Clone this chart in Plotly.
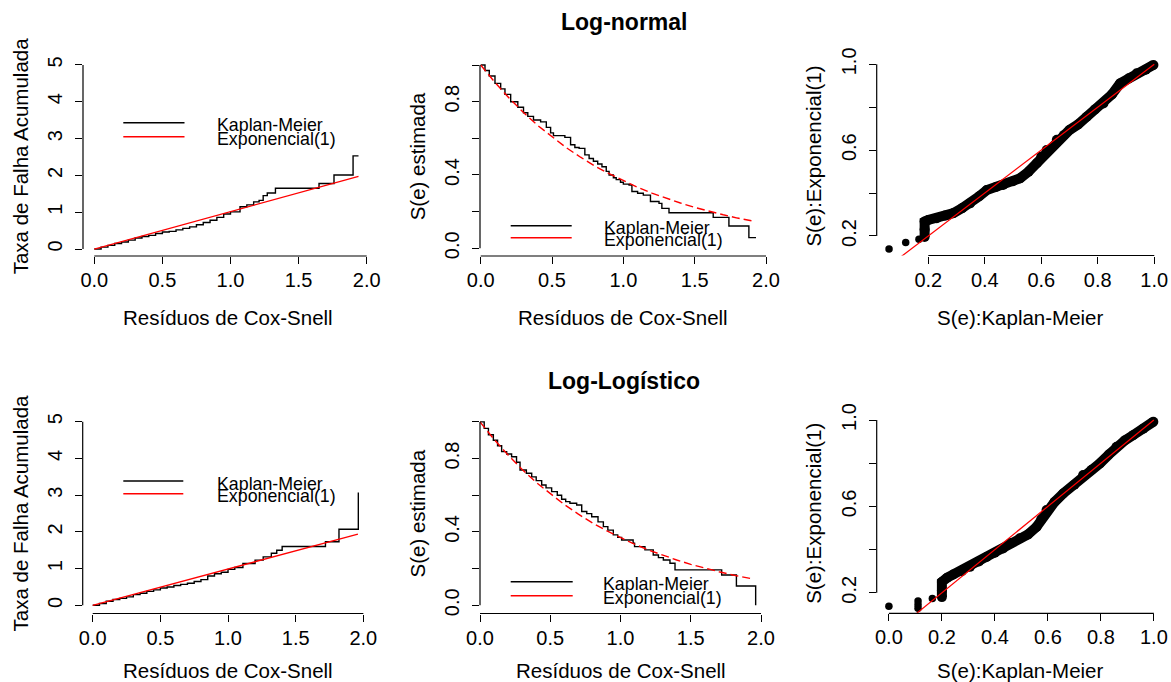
import plotly.graph_objects as go

W, H = 1171, 682
def fx(px): return px / W
def fy(py): return 1 - py / H

# ---------------- data ----------------
# Log-normal row
ln_ch_t = [0, .05, .1, .15, .2, .25, .3, .35, .4, .45, .5, .55, .6, .65, .7, .75, .8, .85, .9, .95,
           1.0, 1.07, 1.12, 1.17, 1.21, 1.24, 1.27, 1.33, 1.65, 1.76, 1.9, 1.94]
ln_ch_h = [0, .05, .10, .15, .19, .24, .3, .34, .37, .42, .46, .48, .52, .56, .6, .66, .72, .78, .86, .95,
           1.01, 1.15, 1.2, 1.28, 1.32, 1.45, 1.52, 1.65, 1.78, 2.01, 2.53, 2.53]
ln_ref_x = [0, 1.94]
ln_ref_y = [0, 1.97]

ln_km_t = [0, .03, .06, .10, .14, .17, .21, .26, .30, .33, .37, .42, .46, .49, .51, .59, .63, .66, .69, .73,
           .76, .79, .82, .85, .88, .90, .93, .95, .98, 1.00, 1.04, 1.06, 1.10, 1.14, 1.19, 1.25, 1.27, 1.32,
           1.63, 1.74, 1.88, 1.93]
ln_km_s = [1.0, .97, .94, .90, .87, .84, .80, .77, .74, .72, .70, .69, .66, .63, .615, .605, .565, .55, .545, .51,
           .49, .475, .46, .445, .42, .40, .385, .375, .36, .35, .345, .31, .30, .29, .255, .245, .218, .194,
           .169, .122, .058, .058]
ln_exp_x = [0, .1, .2, .3, .4, .5, .6, .7, .8, .9, 1.0, 1.1, 1.2, 1.3, 1.4, 1.5, 1.6, 1.7, 1.8, 1.9]
ln_exp_y = [1.0, .905, .819, .741, .670, .607, .549, .497, .449, .407, .368, .333, .301, .273, .247, .223,
            .202, .183, .165, .150]

ln_iso_km = [0.061, 0.12, 0.167]
ln_iso_exp = [0.139, 0.17, 0.185]
ln_pp_km = [0.187, 0.187, 0.187, 0.20, 0.23, 0.26, 0.289, 0.32, 0.348, 0.38, 0.407, 0.44, 0.465, 0.50, 0.525,
            0.555, 0.584, 0.60, 0.619, 0.655, 0.68, 0.70, 0.73, 0.761, 0.79, 0.82, 0.85, 0.879, 0.91, 0.938,
            0.97, 0.997]
ln_pp_exp = [0.195, 0.23, 0.267, 0.275, 0.283, 0.295, 0.307, 0.33, 0.352, 0.385, 0.414, 0.428, 0.438, 0.455,
             0.469, 0.50, 0.539, 0.57, 0.601, 0.648, 0.67, 0.694, 0.72, 0.756, 0.79, 0.818, 0.86, 0.911, 0.935,
             0.958, 0.975, 0.997]

# Log-logistic row
ll_ch_t = [0, .05, .1, .15, .2, .25, .3, .35, .4, .45, .5, .55, .6, .65, .7, .75, .8, .85, .9, .95,
           1.0, 1.05, 1.11, 1.2, 1.26, 1.32, 1.36, 1.40, 1.72, 1.82, 1.963]
ll_ch_h = [0, .05, .11, .16, .19, .23, .29, .33, .38, .42, .47, .5, .54, .57, .6, .65, .7, .8, .86, .9,
           .98, 1.03, 1.14, 1.23, 1.32, 1.42, 1.5, 1.6, 1.73, 2.07, 3.07]
ll_ref_x = [0, 1.96]
ll_ref_y = [0, 1.94]

ll_km_t = [0, .03, .06, .095, .125, .154, .19, .225, .26, .285, .33, .368, .40, .439, .47, .51, .55, .581, .61,
           .64, .688, .724, .76, .795, .84, .878, .91, .949, .98, 1.008, 1.09, 1.10, 1.174, 1.233, 1.27, 1.305,
           1.352, 1.388, 1.72, 1.825, 1.962]
ll_km_s = [1.0, .965, .93, .90, .87, .838, .825, .81, .78, .738, .72, .70, .68, .656, .64, .62, .60, .578, .565,
           .556, .547, .511, .50, .483, .455, .429, .41, .384, .37, .356, .338, .32, .302, .274, .26, .247,
           .229, .193, .165, .105, 0.0]
ll_exp_x = [0, .1, .2, .3, .4, .5, .6, .7, .8, .9, 1.0, 1.1, 1.2, 1.3, 1.4, 1.5, 1.6, 1.7, 1.8, 1.9, 1.945]
ll_exp_y = [1.0, .905, .819, .741, .670, .607, .549, .497, .449, .407, .368, .333, .301, .273, .247, .223,
            .202, .183, .165, .150, .143]

ll_iso_km = [0.0, 0.11, 0.11, 0.11, 0.164]
ll_iso_exp = [0.138, 0.128, 0.145, 0.162, 0.174]
ll_pp_km = [0.2, 0.2, 0.2, 0.22, 0.243, 0.275, 0.306, 0.34, 0.369, 0.40, 0.431, 0.46, 0.494, 0.525, 0.557,
            0.575, 0.595, 0.625, 0.658, 0.70, 0.733, 0.765, 0.796, 0.83, 0.859, 0.89, 0.922, 0.96, 0.998]
ll_pp_exp = [0.18, 0.21, 0.25, 0.27, 0.285, 0.30, 0.32, 0.345, 0.366, 0.385, 0.405, 0.43, 0.452, 0.47, 0.505,
             0.54, 0.583, 0.62, 0.66, 0.70, 0.745, 0.77, 0.799, 0.84, 0.876, 0.905, 0.93, 0.96, 0.992]

diag_x = [0, 1]
diag_y = [0, 1]

titles = ["Log-normal", "Log-Logístico"]
legend_labels = ["Kaplan-Meier", "Exponencial(1)"]
xlab_res = "Resíduos de Cox-Snell"
ylab_ch = "Taxa de Falha Acumulada"
ylab_s = "S(e) estimada"
xlab_pp = "S(e):Kaplan-Meier"
ylab_pp = "S(e):Exponencial(1)"

# ---------------- layout geometry (pixels) ----------------
FONT = "Liberation Sans, Arial, sans-serif"
TICKF = 20
LABF = 20.5
panels = [
    # row 1
    dict(xd=(83, 369), xr=(-0.083, 2.017), yd=(57.6, 256), yr=(-0.19, 5.2),
         xt=[0, .5, 1, 1.5, 2], xtt=["0.0", "0.5", "1.0", "1.5", "2.0"],
         yt=[0, 1, 2, 3, 4, 5], ytt=["0", "1", "2", "3", "4", "5"]),
    dict(xd=(480, 766), xr=(-0.005, 2.0), yd=(57.7, 256), yr=(-0.042, 1.04),
         xt=[0, .5, 1, 1.5, 2], xtt=["0.0", "0.5", "1.0", "1.5", "2.0"],
         yt=[0, .2, .4, .6, .8, 1.0], ytt=["0.0", "", "0.4", "", "0.8", ""]),
    dict(xd=(876.7, 1165), xr=(0.0173, 1.038), yd=(57.7, 255.5), yr=(0.109, 1.031),
         xt=[.2, .4, .6, .8, 1.0], xtt=["0.2", "0.4", "0.6", "0.8", "1.0"],
         yt=[.2, .4, .6, .8, 1.0], ytt=["0.2", "", "0.6", "", "1.0"]),
    # row 2
    dict(xd=(82.7, 367.4), xr=(-0.074, 2.03), yd=(414.4, 613.5), yr=(-0.223, 5.2),
         xt=[0, .5, 1, 1.5, 2], xtt=["0.0", "0.5", "1.0", "1.5", "2.0"],
         yt=[0, 1, 2, 3, 4, 5], ytt=["0", "1", "2", "3", "4", "5"]),
    dict(xd=(480, 761), xr=(0.0, 2.0), yd=(414.4, 613.5), yr=(-0.045, 1.041),
         xt=[0, .5, 1, 1.5, 2], xtt=["0.0", "0.5", "1.0", "1.5", "2.0"],
         yt=[0, .2, .4, .6, .8, 1.0], ytt=["0.0", "", "0.4", "", "0.8", ""]),
    dict(xd=(876.7, 1165), xr=(-0.046, 1.042), yd=(414.4, 613.3), yr=(0.105, 1.026),
         xt=[0, .2, .4, .6, .8, 1.0], xtt=["0.0", "0.2", "0.4", "0.6", "0.8", "1.0"],
         yt=[.2, .4, .6, .8, 1.0], ytt=["0.2", "", "0.6", "", "1.0"]),
]

fig = go.Figure()
layout = dict(width=W, height=H, margin=dict(l=0, r=0, t=0, b=0, pad=0), autosize=False,
              paper_bgcolor="white", plot_bgcolor="white", showlegend=False,
              font=dict(family=FONT, color="black"))
shapes, annotations = [], []

for i, p in enumerate(panels, start=1):
    sx = "" if i == 1 else str(i)
    layout["xaxis" + sx] = dict(
        domain=[fx(p["xd"][0]), fx(p["xd"][1])], range=list(p["xr"]), anchor="y" + sx,
        automargin=False, fixedrange=True,
        showgrid=False, zeroline=False, showline=False, ticks="outside", ticklen=7,
        tickwidth=1, tickcolor="black", tickvals=p["xt"], ticktext=p["xtt"],
        tickfont=dict(size=TICKF, color="black", family=FONT), ticklabelstandoff=-1)
    layout["yaxis" + sx] = dict(
        domain=[fy(p["yd"][1]), fy(p["yd"][0])], range=list(p["yr"]), anchor="x" + sx,
        automargin=False, fixedrange=True,
        showgrid=False, zeroline=False, showline=False, ticks="outside", ticklen=7,
        tickwidth=1, tickcolor="black", tickvals=p["yt"], ticktext=p["ytt"], tickangle=-90,
        tickfont=dict(size=TICKF, color="black", family=FONT), ticklabelstandoff=5)
    # R-style axis lines spanning first to last tick
    shapes.append(dict(type="line", xref="x" + sx, yref="y" + sx + " domain",
                       x0=p["xt"][0], x1=p["xt"][-1], y0=0, y1=0,
                       line=dict(color="black", width=1.2)))
    shapes.append(dict(type="line", yref="y" + sx, xref="x" + sx + " domain",
                       y0=p["yt"][0], y1=p["yt"][-1], x0=0, x1=0,
                       line=dict(color="black", width=1.2)))

def ax(i):
    s = "" if i == 1 else str(i)
    return dict(xaxis="x" + s, yaxis="y" + s)

KLINE = dict(color="black", width=1.4, shape="hv")
RSOLID = dict(color="red", width=1.3)
RDASH = dict(color="red", width=1.4, dash="8px,4px")

rows = [
    (ln_ch_t, ln_ch_h, ln_ref_x, ln_ref_y, ln_km_t, ln_km_s, ln_exp_x, ln_exp_y,
     ln_iso_km, ln_iso_exp, ln_pp_km, ln_pp_exp),
    (ll_ch_t, ll_ch_h, ll_ref_x, ll_ref_y, ll_km_t, ll_km_s, ll_exp_x, ll_exp_y,
     ll_iso_km, ll_iso_exp, ll_pp_km, ll_pp_exp),
]
for r, d in enumerate(rows):
    (ch_t, ch_h, rx, ry, km_t, km_s, ex, ey, iso_x, iso_y, pp_x, pp_y) = d
    b = r * 3
    fig.add_trace(go.Scatter(x=ch_t, y=ch_h, mode="lines", line=KLINE, **ax(b + 1)))
    fig.add_trace(go.Scatter(x=rx, y=ry, mode="lines", line=RSOLID, **ax(b + 1)))
    fig.add_trace(go.Scatter(x=km_t, y=km_s, mode="lines", line=KLINE, **ax(b + 2)))
    fig.add_trace(go.Scatter(x=ex, y=ey, mode="lines", line=RDASH, **ax(b + 2)))
    fig.add_trace(go.Scatter(x=iso_x, y=iso_y, mode="markers", cliponaxis=False,
                             marker=dict(color="black", size=7.5), **ax(b + 3)))
    fig.add_trace(go.Scatter(x=pp_x, y=pp_y, mode="lines+markers", cliponaxis=False,
                             line=dict(color="black", width=10),
                             marker=dict(color="black", size=10), **ax(b + 3)))
    fig.add_trace(go.Scatter(x=diag_x, y=diag_y, mode="lines",
                             line=dict(color="red", width=1.2), **ax(b + 3)))

# legends (R-style, no box)
legend_pos = [
    # (line x0, line x1, black line y, red line y, text x)
    (123.3, 184.5, 122.7, 136.7, 215),
    (510.7, 571.7, 225.7, 237.7, 602),
    (123.3, 183.3, 481.0, 493.7, 215),
    (510.7, 572.7, 581.7, 595.7, 601),
]
for (x0, x1, yb, yr_, tx) in legend_pos:
    shapes.append(dict(type="line", xref="paper", yref="paper", x0=fx(x0), x1=fx(x1),
                       y0=fy(yb), y1=fy(yb), line=dict(color="black", width=1.4)))
    shapes.append(dict(type="line", xref="paper", yref="paper", x0=fx(x0), x1=fx(x1),
                       y0=fy(yr_), y1=fy(yr_), line=dict(color="red", width=1.4)))
    for lab, yy in zip(legend_labels, (yb + 2.5, yr_ + 2.5)):
        annotations.append(dict(text=lab, xref="paper", yref="paper", x=fx(tx), y=fy(yy),
                                xanchor="left", yanchor="middle", showarrow=False,
                                font=dict(size=17.8, color="black", family=FONT)))

# titles
for t, yy in zip(titles, (22, 381)):
    annotations.append(dict(text="<b>" + t + "</b>", xref="paper", yref="paper", x=fx(624), y=fy(yy),
                            xanchor="center", yanchor="middle", showarrow=False,
                            font=dict(size=23, color="black", family=FONT)))

# axis titles
xtitle_y = (317, 670)
for r in range(2):
    b = r * 3
    for j, lab in enumerate([xlab_res, xlab_res, xlab_pp]):
        p = panels[b + j]
        cx = (p["xd"][0] + p["xd"][1]) / 2
        if j == 0:
            cx = 228
        annotations.append(dict(text=lab, xref="paper", yref="paper", x=fx(cx), y=fy(xtitle_y[r]),
                                xanchor="center", yanchor="middle", showarrow=False,
                                font=dict(size=LABF, color="black", family=FONT)))
    for j, (lab, xx) in enumerate([(ylab_ch, 20.5), (ylab_s, 417.5), (ylab_pp, 814)]):
        p = panels[b + j]
        cy = (p["yd"][0] + p["yd"][1]) / 2
        annotations.append(dict(text=lab, xref="paper", yref="paper", x=fx(xx), y=fy(cy),
                                xanchor="center", yanchor="middle", showarrow=False, textangle=-90,
                                font=dict(size=LABF, color="black", family=FONT)))

layout["shapes"] = shapes
layout["annotations"] = annotations
fig.update_layout(**layout)
fig.write_html("out.html", config={"displayModeBar": False, "staticPlot": True},
               post_script="document.body.style.margin='0px';document.body.style.padding='0px';"
                           "document.body.style.overflow='hidden';")
